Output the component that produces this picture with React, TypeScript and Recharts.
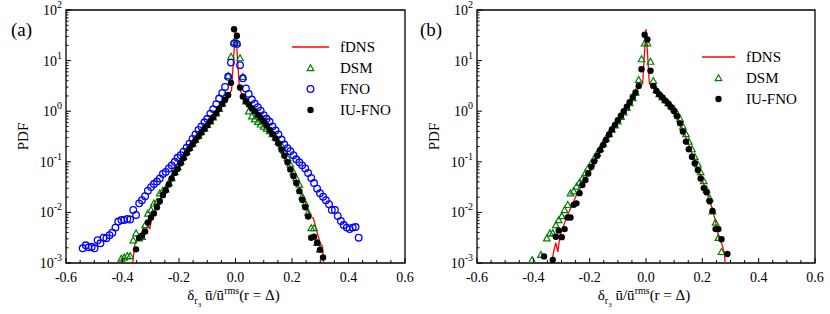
import React from "react";
import {
  ComposedChart,
  Line,
  Scatter,
  XAxis,
  YAxis,
  ReferenceArea,
  Legend,
} from "recharts";

const FONT = '"Liberation Serif", "Times New Roman", serif';
const RED = "#ff0000";
const GREEN = "#008000";
const BLUE = "#0000ff";
const BLACK = "#000000";

// axis ticks
const xMajor = [-0.6, -0.4, -0.2, 0, 0.2, 0.4, 0.6];
const xMinor = [
  -0.55, -0.5, -0.45, -0.35, -0.3, -0.25, -0.15, -0.1, -0.05,
  0.05, 0.1, 0.15, 0.25, 0.3, 0.35, 0.45, 0.5, 0.55,
];
const yMajor = [0.001, 0.01, 0.1, 1, 10, 100];
const yMantissa = [2, 3, 4, 5, 6, 7, 8, 9];

const xTicks = [...xMajor, ...xMinor].sort((a, b) => a - b);
const yTicks = [
  ...yMajor,
  ...yMajor.slice(0, -1).flatMap((d) => yMantissa.map((m) => d * m)),
].sort((a, b) => a - b);

// panel (a): [x, PDF]
const fdnsA: [number, number][] = [
  [-0.366, 0.0008], [-0.356, 0.0024], [-0.346, 0.0028], [-0.336, 0.0035],
  [-0.326, 0.005], [-0.318, 0.0042], [-0.31, 0.0056], [-0.303, 0.0048],
  [-0.294, 0.0089], [-0.28, 0.0126], [-0.268, 0.0174], [-0.257, 0.0229],
  [-0.247, 0.0288], [-0.236, 0.0363], [-0.226, 0.0468], [-0.215, 0.0603],
  [-0.205, 0.0759], [-0.194, 0.0955], [-0.184, 0.12], [-0.173, 0.148],
  [-0.163, 0.182], [-0.152, 0.219], [-0.142, 0.263], [-0.131, 0.316],
  [-0.121, 0.38], [-0.11, 0.447], [-0.1, 0.525], [-0.089, 0.631],
  [-0.079, 0.759], [-0.068, 0.912], [-0.058, 1.12], [-0.047, 1.38],
  [-0.037, 1.66], [-0.026, 2.0], [-0.014, 2.6], [0, 45],
  [0.014, 2.8], [0.026, 2.0], [0.037, 1.58], [0.047, 1.32],
  [0.058, 1.12], [0.068, 0.955], [0.079, 0.832], [0.089, 0.708],
  [0.1, 0.603], [0.11, 0.513], [0.121, 0.427], [0.131, 0.355],
  [0.142, 0.288], [0.152, 0.234], [0.163, 0.182], [0.173, 0.141],
  [0.184, 0.107], [0.194, 0.0813], [0.205, 0.0603], [0.215, 0.0447],
  [0.226, 0.0316], [0.236, 0.0224], [0.247, 0.0158], [0.257, 0.0107],
  [0.266, 0.0083], [0.276, 0.0076], [0.29, 0.0038], [0.3, 0.0025],
  [0.308, 0.0021], [0.312, 0.0008],
];

const dsmA: [number, number][] = [
  [-0.404, 0.00123], [-0.394, 0.00129], [-0.383, 0.00138], [-0.373, 0.00138],
  [-0.362, 0.00282], [-0.352, 0.00389], [-0.341, 0.00309], [-0.331, 0.00331],
  [-0.32, 0.00562], [-0.31, 0.00955], [-0.299, 0.0112], [-0.289, 0.0151],
  [-0.278, 0.0162], [-0.268, 0.024], [-0.257, 0.0269], [-0.247, 0.0288],
  [-0.236, 0.038], [-0.226, 0.0479], [-0.215, 0.0631], [-0.205, 0.0794],
  [-0.194, 0.102], [-0.184, 0.126], [-0.173, 0.158], [-0.163, 0.191],
  [-0.152, 0.229], [-0.142, 0.275], [-0.131, 0.331], [-0.121, 0.389],
  [-0.11, 0.457], [-0.1, 0.537], [-0.089, 0.631], [-0.079, 0.759],
  [-0.068, 0.912], [-0.058, 1.12], [-0.047, 1.41], [-0.037, 2.0],
  [-0.026, 5.01], [-0.016, 12.0], [-0.005, 23.4],
  [0.005, 22.4], [0.016, 11.2], [0.026, 4.79], [0.037, 1.58],
  [0.047, 1.0], [0.058, 0.794], [0.068, 0.692], [0.079, 0.617],
  [0.089, 0.55], [0.1, 0.501], [0.11, 0.457], [0.121, 0.407],
  [0.131, 0.355], [0.142, 0.302], [0.152, 0.251], [0.163, 0.209],
  [0.173, 0.166], [0.184, 0.12], [0.194, 0.0891], [0.205, 0.0631],
  [0.215, 0.0479], [0.226, 0.0355], [0.236, 0.0209], [0.247, 0.0151],
  [0.257, 0.01], [0.268, 0.0049], [0.278, 0.0049], [0.289, 0.00251],
  [0.299, 0.00186],
];

const fnoA: [number, number][] = [
  [-0.541, 0.00195], [-0.53, 0.00224], [-0.52, 0.00204], [-0.509, 0.00209],
  [-0.499, 0.00195], [-0.488, 0.00282], [-0.478, 0.00245], [-0.467, 0.00316],
  [-0.457, 0.00309], [-0.446, 0.00355], [-0.436, 0.00398], [-0.425, 0.00501],
  [-0.415, 0.0066], [-0.404, 0.00708], [-0.394, 0.00708], [-0.383, 0.00741],
  [-0.373, 0.00724], [-0.362, 0.0112], [-0.352, 0.00891], [-0.341, 0.0151],
  [-0.331, 0.0174], [-0.32, 0.0209], [-0.31, 0.0269], [-0.299, 0.0316],
  [-0.289, 0.0363], [-0.278, 0.0407], [-0.268, 0.0468], [-0.257, 0.0575],
  [-0.247, 0.0631], [-0.236, 0.0741], [-0.226, 0.0851], [-0.215, 0.1],
  [-0.205, 0.12], [-0.194, 0.135], [-0.184, 0.158], [-0.173, 0.191],
  [-0.163, 0.229], [-0.152, 0.282], [-0.142, 0.347], [-0.131, 0.427],
  [-0.121, 0.501], [-0.11, 0.603], [-0.1, 0.708], [-0.089, 0.891],
  [-0.079, 1.1], [-0.068, 1.38], [-0.058, 1.78], [-0.047, 2.29],
  [-0.037, 3.02], [-0.026, 4.79], [-0.016, 9.12], [-0.005, 21.9],
  [0.005, 21.4], [0.016, 8.13], [0.026, 4.47], [0.037, 2.82],
  [0.047, 2.19], [0.058, 1.7], [0.068, 1.41], [0.079, 1.2],
  [0.089, 1.02], [0.1, 0.832], [0.11, 0.708], [0.121, 0.617],
  [0.131, 0.501], [0.142, 0.417], [0.152, 0.347], [0.163, 0.275],
  [0.173, 0.219], [0.184, 0.186], [0.194, 0.162], [0.205, 0.135],
  [0.215, 0.112], [0.226, 0.0977], [0.236, 0.0851], [0.247, 0.0741],
  [0.257, 0.0603], [0.268, 0.0479], [0.278, 0.038], [0.289, 0.0295],
  [0.299, 0.024], [0.31, 0.0204], [0.32, 0.0174], [0.331, 0.0145],
  [0.341, 0.0112], [0.352, 0.0112], [0.362, 0.0085], [0.373, 0.00676],
  [0.383, 0.00562], [0.394, 0.00501], [0.404, 0.00468], [0.415, 0.00501],
  [0.425, 0.00513], [0.436, 0.00316],
];

const iuA: [number, number][] = [
  [-0.352, 0.00186], [-0.341, 0.00316], [-0.331, 0.00347], [-0.32, 0.00417],
  [-0.31, 0.00631], [-0.299, 0.00794], [-0.289, 0.00955], [-0.278, 0.0126],
  [-0.268, 0.0166], [-0.257, 0.0219], [-0.247, 0.0275], [-0.236, 0.0355],
  [-0.226, 0.0468], [-0.215, 0.0603], [-0.205, 0.0724], [-0.194, 0.0933],
  [-0.184, 0.117], [-0.173, 0.148], [-0.163, 0.182], [-0.152, 0.219],
  [-0.142, 0.263], [-0.131, 0.316], [-0.121, 0.38], [-0.11, 0.447],
  [-0.1, 0.525], [-0.089, 0.631], [-0.079, 0.759], [-0.068, 0.912],
  [-0.058, 1.12], [-0.047, 1.38], [-0.037, 1.66], [-0.026, 2.09],
  [-0.016, 3.63], [-0.005, 41.7],
  [0.005, 30.9], [0.016, 2.95], [0.026, 1.95], [0.037, 1.58],
  [0.047, 1.35], [0.058, 1.15], [0.068, 1.0], [0.079, 0.851],
  [0.089, 0.741], [0.1, 0.631], [0.11, 0.525], [0.121, 0.427],
  [0.131, 0.355], [0.142, 0.288], [0.152, 0.229], [0.163, 0.174],
  [0.173, 0.132], [0.184, 0.0977], [0.194, 0.0708], [0.205, 0.0525],
  [0.215, 0.038], [0.226, 0.0263], [0.236, 0.0178], [0.247, 0.0126],
  [0.257, 0.00832], [0.268, 0.00316], [0.278, 0.00331], [0.289, 0.00251],
  [0.299, 0.00182], [0.31, 0.00129],
];

// panel (b): [x, PDF]
const fdnsB: [number, number][] = [
  [-0.336, 0.0009], [-0.327, 0.00178], [-0.32, 0.00251], [-0.313, 0.00166],
  [-0.305, 0.00355], [-0.295, 0.005], [-0.285, 0.0072], [-0.275, 0.0098],
  [-0.265, 0.013], [-0.255, 0.0174], [-0.245, 0.023], [-0.235, 0.0295],
  [-0.225, 0.038], [-0.215, 0.049], [-0.205, 0.062], [-0.195, 0.078],
  [-0.185, 0.098], [-0.175, 0.124], [-0.165, 0.155], [-0.155, 0.195],
  [-0.145, 0.245], [-0.135, 0.31], [-0.125, 0.39], [-0.115, 0.49],
  [-0.105, 0.6], [-0.095, 0.74], [-0.085, 0.9], [-0.075, 1.1],
  [-0.065, 1.32], [-0.055, 1.6], [-0.045, 1.95], [-0.035, 2.4],
  [-0.025, 3.0], [-0.012, 3.5], [0, 42], [0.012, 3.5],
  [0.025, 3.0], [0.035, 2.5], [0.045, 2.15], [0.055, 1.9],
  [0.065, 1.68], [0.075, 1.48], [0.085, 1.28], [0.095, 1.1],
  [0.105, 0.9], [0.115, 0.7], [0.125, 0.52], [0.135, 0.38],
  [0.145, 0.27], [0.155, 0.195], [0.165, 0.14], [0.175, 0.1],
  [0.185, 0.072], [0.195, 0.052], [0.205, 0.037], [0.215, 0.026],
  [0.225, 0.0178], [0.235, 0.0118], [0.247, 0.0066], [0.257, 0.0034],
  [0.268, 0.0025], [0.278, 0.0016], [0.283, 0.0008],
];

const dsmB: [number, number][] = [
  [-0.404, 0.00115], [-0.373, 0.00145], [-0.352, 0.00309], [-0.341, 0.00389],
  [-0.331, 0.00389], [-0.32, 0.00562], [-0.31, 0.00708], [-0.299, 0.00851],
  [-0.289, 0.0112], [-0.278, 0.0141], [-0.268, 0.024], [-0.257, 0.0263],
  [-0.247, 0.0324], [-0.236, 0.0389], [-0.226, 0.0468], [-0.215, 0.0603],
  [-0.205, 0.0759], [-0.194, 0.0933], [-0.184, 0.117], [-0.173, 0.148],
  [-0.163, 0.182], [-0.152, 0.229], [-0.142, 0.288], [-0.131, 0.355],
  [-0.121, 0.437], [-0.11, 0.525], [-0.1, 0.631], [-0.089, 0.776],
  [-0.079, 0.955], [-0.068, 1.17], [-0.058, 1.45], [-0.047, 1.82],
  [-0.037, 2.34], [-0.026, 4.17], [-0.016, 10.7], [-0.005, 21.9],
  [0.005, 21.9], [0.016, 9.55], [0.026, 3.98], [0.037, 2.63],
  [0.047, 2.19], [0.058, 1.91], [0.068, 1.66], [0.079, 1.45],
  [0.089, 1.26], [0.1, 1.1], [0.11, 0.912], [0.121, 0.708],
  [0.131, 0.501], [0.142, 0.355], [0.152, 0.251], [0.163, 0.178],
  [0.173, 0.126], [0.184, 0.0891], [0.194, 0.0631], [0.205, 0.0417],
  [0.215, 0.0282], [0.226, 0.0191], [0.236, 0.0105], [0.247, 0.0063],
  [0.257, 0.00316], [0.268, 0.00166],
];

const iuB: [number, number][] = [
  [-0.362, 0.00135], [-0.331, 0.00115], [-0.32, 0.00331], [-0.31, 0.00437],
  [-0.299, 0.00324], [-0.289, 0.00468], [-0.278, 0.00794], [-0.268, 0.00794],
  [-0.257, 0.0141], [-0.247, 0.0151], [-0.236, 0.024], [-0.226, 0.0347],
  [-0.215, 0.0437], [-0.205, 0.0589], [-0.194, 0.0794], [-0.184, 0.102],
  [-0.173, 0.132], [-0.163, 0.17], [-0.152, 0.214], [-0.142, 0.269],
  [-0.131, 0.347], [-0.121, 0.437], [-0.11, 0.537], [-0.1, 0.661],
  [-0.089, 0.813], [-0.079, 1.0], [-0.068, 1.23], [-0.058, 1.51],
  [-0.047, 1.91], [-0.037, 2.34], [-0.026, 3.16], [-0.016, 6.76],
  [-0.005, 32.4],
  [0.005, 26.3], [0.016, 6.31], [0.026, 3.16], [0.037, 2.51],
  [0.047, 2.14], [0.058, 1.86], [0.068, 1.62], [0.079, 1.41],
  [0.089, 1.2], [0.1, 1.0], [0.11, 0.794], [0.121, 0.575],
  [0.131, 0.398], [0.142, 0.251], [0.152, 0.178], [0.163, 0.126],
  [0.173, 0.0933], [0.184, 0.0692], [0.194, 0.0468], [0.205, 0.0302],
  [0.215, 0.0251], [0.226, 0.0166], [0.236, 0.0107], [0.247, 0.00468],
  [0.257, 0.00468], [0.268, 0.00295], [0.289, 0.00151],
];

type Pt = { x: number; y: number };
const toPts = (rows: [number, number][]): Pt[] =>
  rows.map(([x, y]) => ({ x, y }));

function TriangleMark({ cx, cy }: { cx?: number; cy?: number }) {
  if (cx == null || cy == null) return null;
  const s = 3.3;
  return (
    <polygon
      points={`${cx},${cy - s} ${cx - s},${cy + s * 0.8} ${cx + s},${cy + s * 0.8}`}
      fill="none"
      stroke={GREEN}
      strokeWidth={1.2}
    />
  );
}

function RingMark({ cx, cy }: { cx?: number; cy?: number }) {
  if (cx == null || cy == null) return null;
  return <circle cx={cx} cy={cy} r={3.3} fill="none" stroke={BLUE} strokeWidth={1.3} />;
}

function DotMark({ cx, cy }: { cx?: number; cy?: number }) {
  if (cx == null || cy == null) return null;
  return <circle cx={cx} cy={cy} r={3.2} fill={BLACK} />;
}

function XTick(props: any) {
  const { x, y, payload } = props;
  const v = payload.value as number;
  const major = xMajor.includes(v);
  return (
    <g>
      <line x1={x} y1={y} x2={x} y2={y - (major ? 5 : 3)} stroke={BLACK} strokeWidth={1} />
      {major && (
        <text x={x} y={y + 19} textAnchor="middle" fontFamily={FONT} fontSize={14} fill={BLACK}>
          {v.toFixed(1)}
        </text>
      )}
    </g>
  );
}

function YTick(props: any) {
  const { x, y, payload } = props;
  const v = payload.value as number;
  const major = yMajor.includes(v);
  const exp = Math.round(Math.log10(v));
  return (
    <g>
      <line x1={x} y1={y} x2={x + (major ? 5 : 2.5)} y2={y} stroke={BLACK} strokeWidth={1} />
      {major && (
        <text x={x - 4} y={y + 5} textAnchor="end" fontFamily={FONT} fontSize={14} fill={BLACK}>
          10
          <tspan dy={-7} fontSize={10}>
            {String(exp)}
          </tspan>
        </text>
      )}
    </g>
  );
}

function XLabel(props: any) {
  const vb = props.viewBox || { x: 0, y: 263, width: 340 };
  const cx = vb.x + vb.width / 2 - 2;
  const base = vb.y + 37;
  return (
    <text x={cx} y={base} textAnchor="middle" fontFamily={FONT} fontSize={15} fill={BLACK}>
      δ
      <tspan dy={4} fontSize={10}>r</tspan>
      <tspan dy={3} fontSize={7}>3</tspan>
      <tspan dy={-7}> ū/ū</tspan>
      <tspan dy={-6} fontSize={10}>rms</tspan>
      <tspan dy={6}>(r = Δ)</tspan>
    </text>
  );
}

function YLabel(props: any) {
  const vb = props.viewBox || { x: 0, y: 10, width: 66, height: 253 };
  const cx = vb.x + vb.width - 43;
  const cy = vb.y + vb.height / 2;
  return (
    <text
      transform={`translate(${cx + 5}, ${cy}) rotate(-90)`}
      textAnchor="middle"
      fontFamily={FONT}
      fontSize={15}
      fill={BLACK}
    >
      PDF
    </text>
  );
}

type LegendRow = { kind: "line" | "tri" | "ring" | "dot"; name: string };

function LegendBox({ rows, textX }: { rows: LegendRow[]; textX: number }) {
  return (
    <svg width={130} height={rows.length * 21 + 6}>
      {rows.map((r, i) => {
        const cy = 11 + i * 21;
        const mx = (6 + textX - 11) / 2;
        return (
          <g key={r.name}>
            {r.kind === "line" && (
              <line x1={6} y1={cy} x2={textX - 11} y2={cy} stroke={RED} strokeWidth={1.3} />
            )}
            {r.kind === "tri" && <TriangleMark cx={mx} cy={cy} />}
            {r.kind === "ring" && <RingMark cx={mx} cy={cy} />}
            {r.kind === "dot" && <DotMark cx={mx} cy={cy} />}
            <text x={textX} y={cy + 5} fontFamily={FONT} fontSize={15} fill={BLACK}>
              {r.name}
            </text>
          </g>
        );
      })}
    </svg>
  );
}

type PanelProps = {
  width: number;
  yWidth: number;
  right: number;
  fdns: Pt[];
  dsm: Pt[];
  fno?: Pt[];
  iu: Pt[];
  legendLeft: number;
  legendTop: number;
  legendTextX: number;
};

function Panel({ width, yWidth, right, fdns, dsm, fno, iu, legendLeft, legendTop, legendTextX }: PanelProps) {
  const rows: LegendRow[] = [
    { kind: "line", name: "fDNS" },
    { kind: "tri", name: "DSM" },
    ...(fno ? [{ kind: "ring" as const, name: "FNO" }] : []),
    { kind: "dot", name: "IU-FNO" },
  ];
  return (
    <ComposedChart width={width} height={314} margin={{ top: 10, right, bottom: 0, left: 0 }}>
      <XAxis
        type="number"
        dataKey="x"
        domain={[-0.6, 0.6]}
        ticks={xTicks}
        interval={0}
        allowDataOverflow
        axisLine={false}
        tickLine={false}
        tickSize={0}
        tickMargin={0}
        height={51}
        tick={<XTick />}
        label={<XLabel />}
      />
      <YAxis
        type="number"
        dataKey="y"
        scale="log"
        domain={[0.001, 100]}
        ticks={yTicks}
        interval={0}
        allowDataOverflow
        axisLine={false}
        tickLine={false}
        tickSize={0}
        tickMargin={0}
        width={yWidth}
        tick={<YTick />}
        label={<YLabel />}
      />
      <ReferenceArea x1={-0.6} x2={0.6} y1={0.001} y2={100} fill="none" stroke={BLACK} strokeWidth={1.3} />
      <Line
        data={fdns}
        dataKey="y"
        type="linear"
        stroke={RED}
        strokeWidth={1.3}
        dot={false}
        activeDot={false}
        isAnimationActive={false}
      />
      <Scatter data={dsm} dataKey="y" shape={<TriangleMark />} isAnimationActive={false} />
      {fno && <Scatter data={fno} dataKey="y" shape={<RingMark />} isAnimationActive={false} />}
      <Scatter data={iu} dataKey="y" shape={<DotMark />} isAnimationActive={false} />
      <Legend
        layout="vertical"
        verticalAlign="middle"
        align="center"
        wrapperStyle={{ left: legendLeft, top: legendTop, width: 130 }}
        content={() => <LegendBox rows={rows} textX={legendTextX} />}
      />
    </ComposedChart>
  );
}

const tagStyle: React.CSSProperties = {
  position: "absolute",
  top: 20,
  fontFamily: FONT,
  fontSize: 19,
  lineHeight: "19px",
  color: BLACK,
};

export default function App() {
  return (
    <div style={{ position: "absolute", left: 0, top: 0, width: 830, height: 314, background: "#fff" }}>
      <div style={{ position: "absolute", left: 0, top: 0 }}>
        <Panel
          width={415}
          yWidth={66}
          right={10}
          fdns={toPts(fdnsA)}
          dsm={toPts(dsmA)}
          fno={toPts(fnoA)}
          iu={toPts(iuA)}
          legendLeft={286}
          legendTop={36}
          legendTextX={54}
        />
      </div>
      <div style={{ position: "absolute", left: 415, top: 0 }}>
        <Panel
          width={415}
          yWidth={62}
          right={15}
          fdns={toPts(fdnsB)}
          dsm={toPts(dsmB)}
          iu={toPts(iuB)}
          legendLeft={281}
          legendTop={46}
          legendTextX={50}
        />
      </div>
      <div style={{ ...tagStyle, left: 11 }}>(a)</div>
      <div style={{ ...tagStyle, left: 420 }}>(b)</div>
    </div>
  );
}
